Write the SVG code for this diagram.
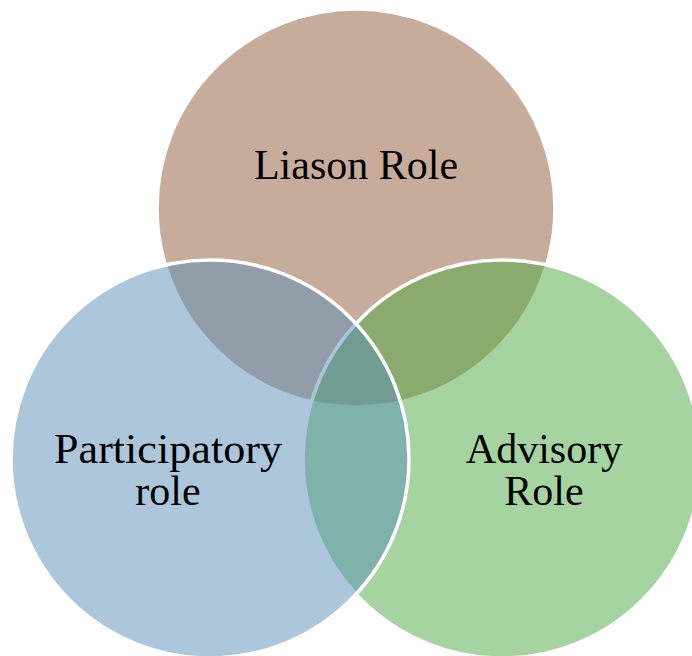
<svg xmlns="http://www.w3.org/2000/svg" width="692" height="656" viewBox="0 0 692 656">
<style>
.c{stroke:#ffffff;stroke-width:3.5}
.t{font-family:"Liberation Serif","DejaVu Serif",serif;font-size:42px;fill:#000;text-anchor:middle}
</style>
<rect width="692" height="656" fill="#ffffff"/>
<g id="liason">
<circle class="c" cx="356" cy="208" r="199" fill="rgb(200,172,155)"/>
</g>
<g id="advisory">
<circle class="c" cx="502" cy="459" r="199" fill="rgb(77,169,65)" fill-opacity="0.5"/>
</g>
<g id="participatory">
<circle class="c" cx="210" cy="459" r="199" fill="rgb(89,143,183)" fill-opacity="0.5"/>
</g>
<g id="labels">
<text class="t" x="356" y="179">Liason Role</text>
<text class="t" x="168" y="463" textLength="228" lengthAdjust="spacingAndGlyphs">Participatory</text>
<text class="t" x="168" y="505">role</text>
<text class="t" x="544" y="463">Advisory</text>
<text class="t" x="544" y="505">Role</text>
</g>
</svg>
